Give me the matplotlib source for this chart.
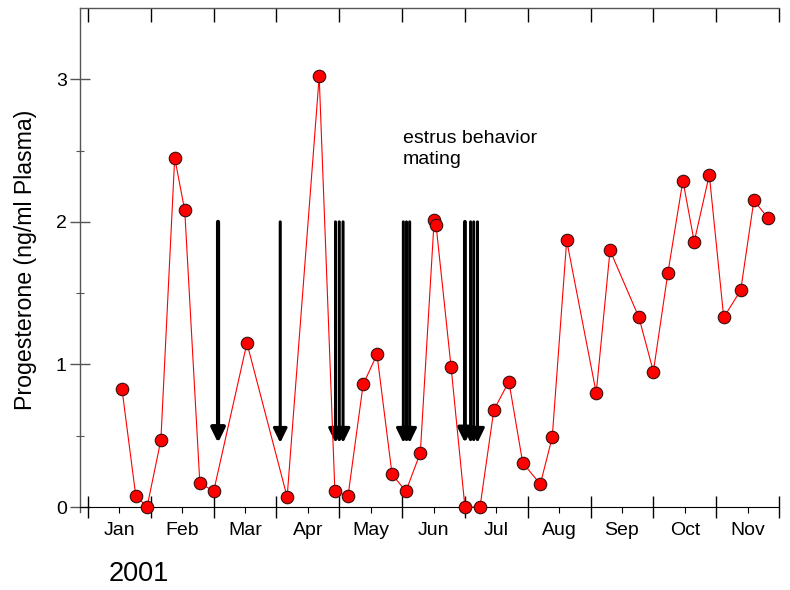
import matplotlib
matplotlib.use('Agg')
import matplotlib.pyplot as plt
from matplotlib.patches import ArrowStyle

plt.rcParams['font.family'] = ['Liberation Sans', 'DejaVu Sans']

# x in months since Jan 1 (each month drawn the same width), y in ng/ml
sample_month = [0.54, 0.76, 0.94, 1.16, 1.38, 1.54, 1.78, 2.00, 2.53, 3.17,
                3.68, 3.93, 4.14, 4.38, 4.60, 4.84, 5.06, 5.29, 5.51, 5.54,
                5.78, 6.00, 6.24, 6.46, 6.70, 6.92, 7.20, 7.39, 7.62, 8.09,
                8.31, 8.77, 9.00, 9.23, 9.47, 9.65, 9.89, 10.12, 10.39, 10.60,
                10.82]
progesterone = [0.83, 0.08, 0.00, 0.47, 2.45, 2.08, 0.17, 0.11, 1.15, 0.07,
                3.02, 0.11, 0.08, 0.86, 1.07, 0.23, 0.11, 0.38, 2.01, 1.98,
                0.98, 0.00, 0.00, 0.68, 0.88, 0.31, 0.16, 0.49, 1.87, 0.80,
                1.80, 1.33, 0.95, 1.64, 2.29, 1.86, 2.33, 1.33, 1.52, 2.15,
                2.03]

# estrus behaviour / mating events
event_month = [2.07, 3.06, 3.94, 4.00, 4.06, 5.02, 5.07, 5.12,
               6.00, 6.09, 6.14, 6.20]
event_width = [3.0, 2.2, 2.2, 2.2, 2.2, 2.2, 2.2, 2.2, 2.8, 2.2, 2.2, 2.2]

months = ['Jan', 'Feb', 'Mar', 'Apr', 'May', 'Jun', 'Jul', 'Aug', 'Sep',
          'Oct', 'Nov']

fig = plt.figure(figsize=(7.9, 5.9), dpi=100)
ax = fig.add_axes([0.1013, 0.1322, 0.8848, 0.8542])

head = ArrowStyle('-|>', head_length=0.86, head_width=0.42)
for xm, lw in zip(event_month, event_width):
    ax.annotate('', xy=(xm, 0.45), xytext=(xm, 2.0),
                arrowprops=dict(arrowstyle=head, mutation_scale=10, lw=lw,
                                color='black', shrinkA=0, shrinkB=0))

ax.plot(sample_month, progesterone, color='red', lw=0.8, marker='o',
        markersize=9, markerfacecolor='#ff0000', markeredgecolor='#3a1010',
        markeredgewidth=0.8, clip_on=False, zorder=3)

ax.text(5.01, 2.403, 'estrus behavior\nmating', fontsize=14, ha='left',
        va='baseline', linespacing=1.37)

ax.set_xlim(-0.127, 11.0)
ax.set_ylim(-0.035, 3.5)

ax.spines['right'].set_visible(False)
ax.spines['bottom'].set_position(('data', 0))
ax.spines['left'].set_color('#555555')
ax.spines['top'].set_color('#555555')
ax.spines['left'].set_linewidth(1.0)
ax.spines['top'].set_linewidth(1.0)

ax.set_xticks(range(12))
ax.set_xticks([m + 0.5 for m in range(11)], minor=True)
ax.set_xticklabels([])
ax.set_xticklabels(months, minor=True)
ax.tick_params(axis='x', which='major', direction='inout', length=16,
               width=1, top=True)
ax.tick_params(axis='x', which='minor', direction='out', length=4,
               width=0.8, labelsize=14, pad=7)

ax.set_yticks([0, 1, 2, 3])
ax.set_yticks([0.5, 1.5, 2.5], minor=True)
ax.tick_params(axis='y', which='major', direction='inout', length=15,
               width=1, color='#555555', labelsize=14, pad=2)
ax.tick_params(axis='y', which='minor', direction='inout', length=6,
               width=0.8, color='#555555')

# top ticks point inward only
for t in ax.xaxis.get_major_ticks():
    t.tick2line.set_marker(3)
    t.tick2line.set_markersize(10)
    t.tick2line.set_color('#555555')

ax.set_ylabel('Progesterone (ng/ml Plasma)', fontsize=16.7, labelpad=14)
fig.text(0.137, 0.027, '2001', fontsize=19.5, va='center')

fig.savefig('out.png', dpi=100)
